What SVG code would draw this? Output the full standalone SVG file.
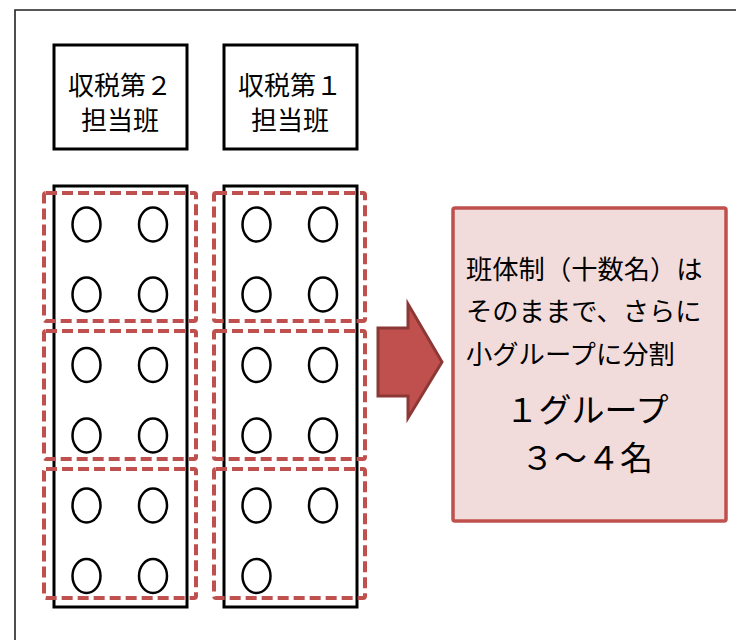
<svg xmlns="http://www.w3.org/2000/svg" width="736" height="640" viewBox="0 0 736 640">
<style>
.t{font-family:"Noto Sans CJK JP","Liberation Sans",sans-serif;fill:#000;text-anchor:middle}
.hdr{fill:#fff;stroke:#000;stroke-width:3}
.col{fill:#fff;stroke:#000;stroke-width:3}
.grp{fill:none;stroke:#C0504D;stroke-width:4;stroke-dasharray:11,5}
.p{fill:none;stroke:#000;stroke-width:2.5}
</style>
<rect width="736" height="640" fill="#fff"/>
<path d="M15,700 V10 H760" fill="none" stroke="#222" stroke-width="1.6"/>
<g id="hdr2">
<rect class="hdr" x="54" y="45" width="133" height="104"/>
<text class="t" x="120" y="95" font-size="26">収税第２</text>
<text class="t" x="120" y="130" font-size="26">担当班</text>
</g>
<g id="hdr1">
<rect class="hdr" x="224" y="45" width="133" height="104"/>
<text class="t" x="290" y="95" font-size="26">収税第１</text>
<text class="t" x="290" y="130" font-size="26">担当班</text>
</g>
<g id="col2">
<rect class="col" x="54" y="186" width="133" height="421"/>
<ellipse class="p" cx="86.5" cy="224.5" rx="14" ry="17"/>
<ellipse class="p" cx="153" cy="224.5" rx="14" ry="17"/>
<ellipse class="p" cx="86.5" cy="294.5" rx="14" ry="17"/>
<ellipse class="p" cx="153" cy="294.5" rx="14" ry="17"/>
<ellipse class="p" cx="86.5" cy="365" rx="14" ry="17"/>
<ellipse class="p" cx="153" cy="365" rx="14" ry="17"/>
<ellipse class="p" cx="86.5" cy="435.5" rx="14" ry="17"/>
<ellipse class="p" cx="153" cy="435.5" rx="14" ry="17"/>
<ellipse class="p" cx="86.5" cy="505.5" rx="14" ry="17"/>
<ellipse class="p" cx="153" cy="505.5" rx="14" ry="17"/>
<ellipse class="p" cx="86.5" cy="576" rx="14" ry="17"/>
<ellipse class="p" cx="153" cy="576" rx="14" ry="17"/>
</g>
<g id="col1">
<rect class="col" x="224" y="186" width="133" height="421"/>
<ellipse class="p" cx="256.5" cy="224.5" rx="14" ry="17"/>
<ellipse class="p" cx="323" cy="224.5" rx="14" ry="17"/>
<ellipse class="p" cx="256.5" cy="294.5" rx="14" ry="17"/>
<ellipse class="p" cx="323" cy="294.5" rx="14" ry="17"/>
<ellipse class="p" cx="256.5" cy="365" rx="14" ry="17"/>
<ellipse class="p" cx="323" cy="365" rx="14" ry="17"/>
<ellipse class="p" cx="256.5" cy="435.5" rx="14" ry="17"/>
<ellipse class="p" cx="323" cy="435.5" rx="14" ry="17"/>
<ellipse class="p" cx="256.5" cy="505.5" rx="14" ry="17"/>
<ellipse class="p" cx="323" cy="505.5" rx="14" ry="17"/>
<ellipse class="p" cx="256.5" cy="576" rx="14" ry="17"/>
</g>
<g id="groups">
<rect class="grp" x="44" y="193" width="152" height="128" rx="2"/>
<rect class="grp" x="44" y="331" width="152" height="128" rx="2"/>
<rect class="grp" x="44" y="469" width="152" height="129" rx="2"/>
<rect class="grp" x="214" y="193" width="151" height="128" rx="2"/>
<rect class="grp" x="214" y="331" width="151" height="128" rx="2"/>
<rect class="grp" x="214" y="469" width="151" height="129" rx="2"/>
</g>
<g id="connectors">
<path d="M378,328 H408 V304 L442,362 L408,418 V396 H378 Z" fill="#C0504D" stroke="#8C3836" stroke-width="3" stroke-linejoin="miter"/>
</g>
<g id="result">
<rect x="453" y="208" width="273" height="313" rx="2" fill="#F2DCDB" stroke="#C0504D" stroke-width="3.5"/>
<text class="t" x="466" y="279" font-size="26.3" style="text-anchor:start">班体制（十数名）は</text>
<text class="t" x="466" y="321" font-size="26.3" style="text-anchor:start">そのままで、さらに</text>
<text class="t" x="466" y="364" font-size="26.3" style="text-anchor:start">小グループに分割</text>
<text class="t" x="587" y="422" font-size="33">１グループ</text>
<text class="t" x="587" y="470" font-size="33">３～４名</text>
</g>
</svg>
